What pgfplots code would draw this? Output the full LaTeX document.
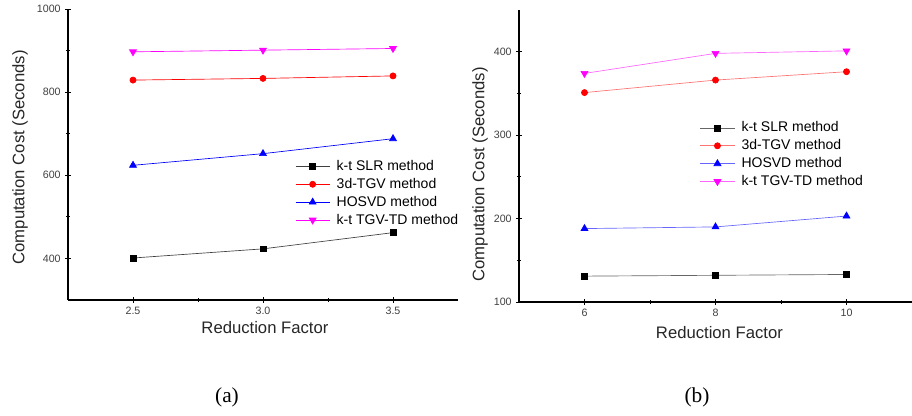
\documentclass[border=0pt]{standalone}
\usepackage{pgfplots}
\pgfplotsset{compat=1.18}
\usepackage{fontspec}
\setmainfont{Liberation Sans}
\newfontfamily\capfont{Liberation Serif}

\definecolor{tgvtd}{RGB}{255,0,255}
\pgfplotsset{
  costaxis/.style={
    scale only axis,
    axis x line=bottom, axis y line=left,
    axis line style={-, black, line width=0.8pt},
    tick align=center,
    major tick length=4pt, minor tick length=2.5pt,
    minor tick num=1,
    tick style={black, line width=0.6pt},
    ticklabel style={font=\fontsize{8}{9}\selectfont, text=black!75},
    /pgf/number format/assume math mode=true,
    /pgf/number format/1000 sep={},
    label style={font=\fontsize{12.5}{14}\selectfont, text=black!85},
    legend style={draw=none, fill=none, font=\fontsize{10.5}{12}\selectfont,
      row sep=0.3pt, inner sep=0pt, cells={anchor=west},
      /tikz/every odd column/.append style={column sep=3pt}},
    legend image code/.code={
      \draw[mark repeat=2, mark phase=2, #1] plot coordinates {(0cm,0cm) (0.45cm,0cm) (0.9cm,0cm)};},
  },
  slr/.style={black!75, line width=0.5pt, mark=square*, mark size=2.2pt, mark options={black, solid}},
  tgv/.style={red, line width=0.5pt, mark=*, mark size=2.3pt, mark options={red}},
  hosvd/.style={blue, line width=0.5pt, mark=triangle*, mark size=3pt, mark options={blue}},
  td/.style={tgvtd, line width=0.5pt, mark=triangle*, mark size=3pt, mark options={tgvtd, rotate=180}},
}

\begin{document}
\begin{tikzpicture}
\path[use as bounding box] (0,0) rectangle (684pt,312pt);

% (a)
\begin{axis}[costaxis,
  at={(51pt,87pt)}, anchor=south west,
  width=292.5pt, height=218.25pt,
  xmin=2.25, xmax=3.75, ymin=300, ymax=1000,
  xtick={2.5,3.0,3.5}, xticklabels={2.5,3.0,3.5},
  ytick={400,600,800,1000},
  xlabel={Reduction Factor}, ylabel={Computation Cost (Seconds)},
  xlabel style={at={(axis description cs:0.505,-0.093)}, anchor=center},
  ylabel style={at={(axis description cs:-0.123,0.49)}, anchor=center},
  legend style={at={(axis description cs:0.582,0.49)}, anchor=north west},
]
\addplot[slr] coordinates {(2.5,401) (3.0,423) (3.5,462)};
\addlegendentry{k-t SLR method}
\addplot[tgv] coordinates {(2.5,829) (3.0,833) (3.5,839)};
\addlegendentry{3d-TGV method}
\addplot[hosvd] coordinates {(2.5,624) (3.0,652) (3.5,688)};
\addlegendentry{HOSVD method}
\addplot[td] coordinates {(2.5,897) (3.0,901) (3.5,905)};
\addlegendentry{k-t TGV-TD method}
\end{axis}

% (b)
\begin{axis}[costaxis,
  at={(389.25pt,85.5pt)}, anchor=south west,
  width=294.75pt, height=219pt,
  xmin=5, xmax=11, ymin=100, ymax=450,
  xtick={6,8,10},
  ytick={100,200,300,400},
  xlabel={Reduction Factor}, ylabel={Computation Cost (Seconds)},
  xlabel style={at={(axis description cs:0.51,-0.106)}, anchor=center},
  ylabel style={at={(axis description cs:-0.099,0.437)}, anchor=center},
  legend style={at={(axis description cs:0.46,0.627)}, anchor=north west},
  slr/.append style={black!60},
  tgv/.append style={red!55},
  hosvd/.append style={blue!60},
  td/.append style={tgvtd!60},
]
\addplot[slr] coordinates {(6,131) (8,132) (10,133)};
\addlegendentry{k-t SLR method}
\addplot[tgv] coordinates {(6,351) (8,366) (10,376)};
\addlegendentry{3d-TGV method}
\addplot[hosvd] coordinates {(6,188) (8,190) (10,203)};
\addlegendentry{HOSVD method}
\addplot[td] coordinates {(6,374) (8,398) (10,401)};
\addlegendentry{k-t TGV-TD method}
\end{axis}

\node[font=\capfont\fontsize{16}{18}\selectfont] at (170.25pt,13.9pt) {(a)};
\node[font=\capfont\fontsize{16}{18}\selectfont] at (522.75pt,13.9pt) {(b)};
\end{tikzpicture}
\end{document}
